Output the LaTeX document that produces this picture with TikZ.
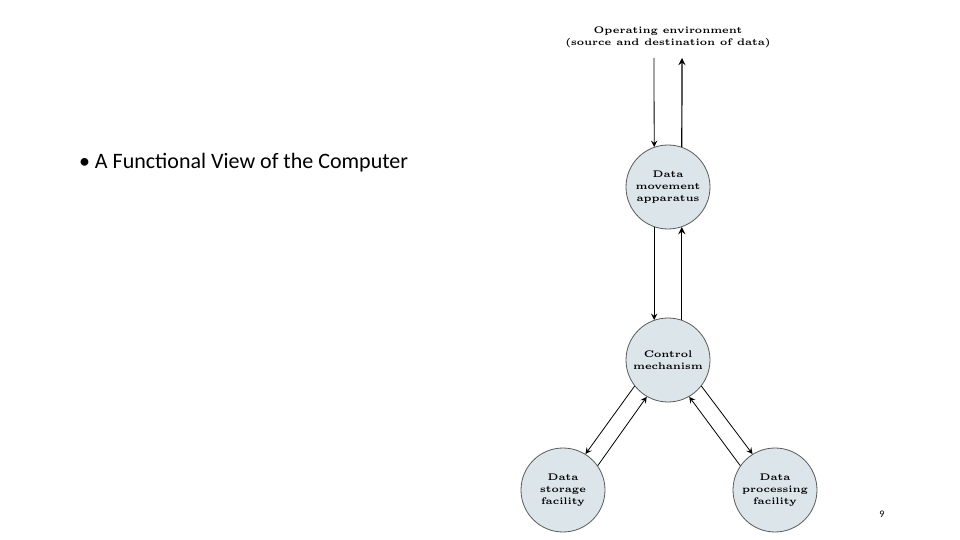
\documentclass[tikz,border=0pt]{standalone}
\usepackage{fontspec}
\setsansfont{Carlito}
\usetikzlibrary{positioning}
\definecolor{unitfill}{HTML}{DCE6EA}
\tikzset{
  unit/.style={circle, draw=gray!70!black, fill=unitfill, minimum size=42pt, inner sep=0pt,
    align=center, font=\fontsize{4.8}{6}\selectfont\bfseries},
  flow/.style={->, >=stealth, thin},
  flowb/.style={->, >=stealth, semithick}
}
\begin{document}
\begin{tikzpicture}[x=0.5pt,y=-0.5pt]
\useasboundingbox (0,0) rectangle (960,540);

\node[font=\sffamily\fontsize{11}{13}\selectfont, anchor=west] (title) at (72,163) {\textbullet\ A Functional View of the Computer};
\node[font=\sffamily\fontsize{5}{6}\selectfont] (pagenum) at (882,514) {9};

\node[align=center, font=\fontsize{4.8}{6}\selectfont\bfseries] (env) at (668,37) {Operating environment\\(source and destination of data)};
\node[unit] (move) at (668,187) {Data\\movement\\apparatus};
\node[unit] (ctrl) at (668,360) {Control\\mechanism};
\node[unit] (stor) at (563,490) {Data\\storage\\facility};
\node[unit] (proc) at (775,490) {Data\\processing\\facility};

\coordinate (envin) at (654,58);
\coordinate (envout) at (682,58);
\draw[flow] (envin) -- (move.109);
\draw[flowb] (move.71) -- (envout);
\draw[flow] (move.251) -- (ctrl.109);
\draw[flowb] (ctrl.71) -- (move.289);

\draw[flow] (ctrl.218) -- (stor.58);
\draw[flow] (stor.35) -- (ctrl.240);
\draw[flow] (ctrl.322) -- (proc.122);
\draw[flow] (proc.145) -- (ctrl.300);
\end{tikzpicture}
\end{document}
